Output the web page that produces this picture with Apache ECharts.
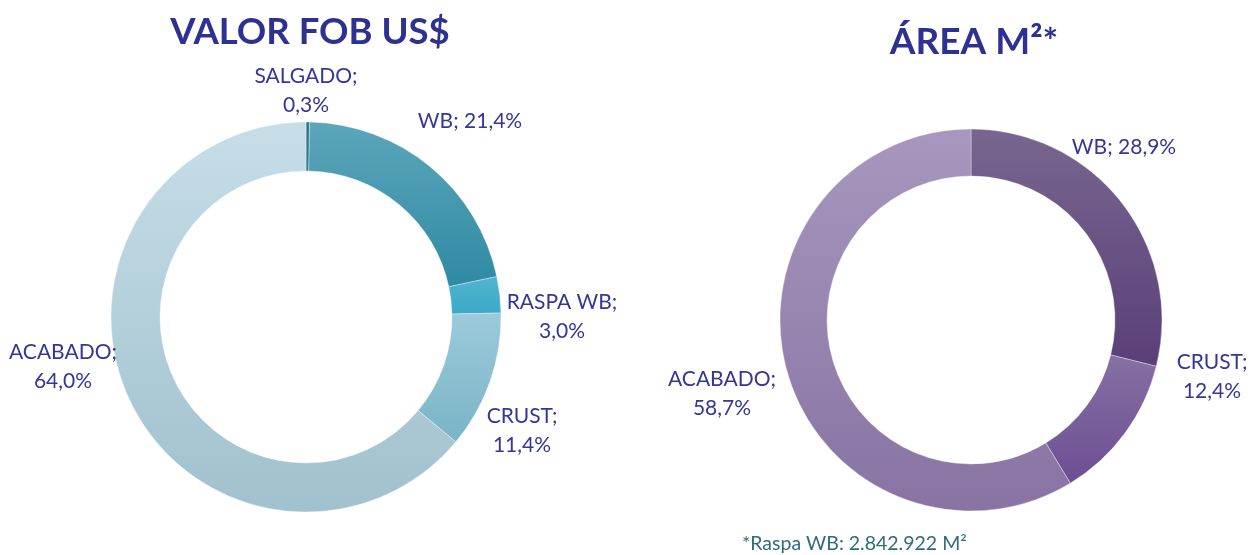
<!DOCTYPE html>
<html>
<head>
<meta charset="utf-8">
<script src="https://cdn.jsdelivr.net/npm/echarts@6/dist/echarts.min.js"></script>
<style>
  html, body { margin: 0; padding: 0; background: #fff; }
  #chart01 { width: 1258px; height: 555px; }
</style>
</head>
<body>
<div id="chart01"></div>
<script>
// dados
var fobNames = ["SALGADO", "WB", "RASPA WB", "CRUST", "ACABADO"];
var fobValues = [0.3, 21.4, 3.0, 11.4, 64.0];
var areaNames = ["WB", "CRUST", "ACABADO"];
var areaValues = [28.9, 12.4, 58.7];
var oneLineLabels = ["WB"];
var footnote = "*Raspa WB: 2.842.922 M²";

// posição dos rótulos (relativa ao centro de cada rosca)
var fobLabelOffsets = [[0, -226], [164, -196], [256, 0], [216, 114], [-243, 50]];
var areaLabelOffsets = [[153, -173], [241, 57], [-249, 74]];

var fobCenter = [306, 317];
var areaCenter = [971, 320];

var fobColors = [
    ["#2e7a8c", "#2e7a8c"],
    ["#5ba6bb", "#2f8aa3"],
    ["#52b5cf", "#3aa9c7"],
    ["#9ccada", "#79b4c7"],
    ["#c6dee8", "#a0c1cd"]
];
var areaColors = [
    ["#78668f", "#5a3f78"],
    ["#8670a3", "#6c4e92"],
    ["#a797be", "#8873a2"]
];

function grad(c) {
    return new echarts.graphic.LinearGradient(0, 0, 0, 1, [
        { offset: 0, color: c[0] },
        { offset: 1, color: c[1] }
    ]);
}

function buildData(names, values, colors) {
    return names.map(function (n, i) {
        return { name: n, value: values[i], itemStyle: { color: grad(colors[i]) } };
    });
}

function fmt(p) {
    var v = p.value.toFixed(1).replace(".", ",") + "%";
    return oneLineLabels.indexOf(p.name) >= 0 ? p.name + "; " + v : p.name + ";\n" + v;
}

function layoutFor(center, offsets) {
    return function (params) {
        var o = offsets[params.dataIndex];
        return {
            x: center[0] + o[0],
            y: center[1] + o[1],
            align: "center",
            verticalAlign: "middle"
        };
    };
}

var labelStyle = {
    show: true,
    position: "outside",
    formatter: fmt,
    color: "#35359a",
    fontFamily: "Lato",
    fontSize: 21,
    lineHeight: 29
};

var myChart01 = echarts.init(document.getElementById("chart01"));
var option = {
    backgroundColor: "#fff",
    animation: false,
    title: [
        {
            text: "VALOR FOB US$",
            left: 305,
            top: 9,
            textAlign: "center",
            textStyle: { color: "#2e3192", fontFamily: "Lato", fontWeight: "bold", fontSize: 36.5 }
        },
        {
            text: "ÁREA M²*",
            left: 969,
            top: 19,
            textAlign: "center",
            textStyle: { color: "#2e3192", fontFamily: "Lato", fontWeight: "bold", fontSize: 37 }
        },
        {
            text: footnote,
            left: 737,
            top: 529,
            textStyle: { color: "#2e6c7b", fontFamily: "Lato", fontWeight: "normal", fontSize: 19.5 }
        }
    ],
    series: [
        {
            name: "VALOR FOB US$",
            type: "pie",
            center: fobCenter,
            radius: [146, 195],
            startAngle: 90,
            clockwise: true,
            avoidLabelOverlap: false,
            itemStyle: { borderColor: "rgba(255,255,255,0.6)", borderWidth: 0.6 },
            label: labelStyle,
            labelLine: { show: false },
            labelLayout: layoutFor(fobCenter, fobLabelOffsets),
            emphasis: { disabled: true },
            data: buildData(fobNames, fobValues, fobColors)
        },
        {
            name: "ÁREA M²",
            type: "pie",
            center: areaCenter,
            radius: [144, 191],
            startAngle: 90,
            clockwise: true,
            avoidLabelOverlap: false,
            itemStyle: { borderColor: "rgba(255,255,255,0.6)", borderWidth: 0.6 },
            label: labelStyle,
            labelLine: { show: false },
            labelLayout: layoutFor(areaCenter, areaLabelOffsets),
            emphasis: { disabled: true },
            data: buildData(areaNames, areaValues, areaColors)
        }
    ]
};
myChart01.setOption(option);
</script>
</body>
</html>
